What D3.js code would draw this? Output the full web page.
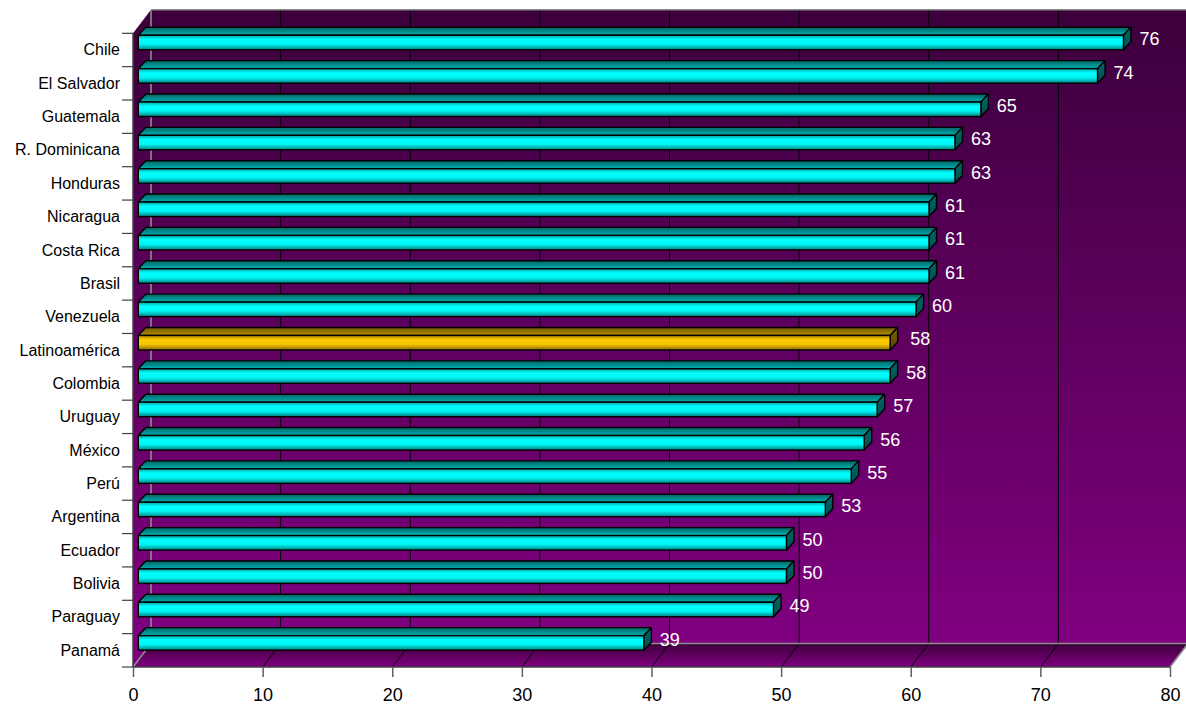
<!DOCTYPE html>
<html>
<head>
<meta charset="utf-8">
<script src="https://cdn.jsdelivr.net/npm/d3@7"></script>
<style>
  html, body { margin: 0; padding: 0; background: #ffffff; }
  svg { display: block; font-family: "Liberation Sans", Arial, sans-serif; }
</style>
</head>
<body>
<svg id="chart" width="1186" height="704"></svg>
<script>
const categories = ["Chile","El Salvador","Guatemala","R. Dominicana","Honduras","Nicaragua","Costa Rica","Brasil","Venezuela","Latinoamérica","Colombia","Uruguay","México","Perú","Argentina","Ecuador","Bolivia","Paraguay","Panamá"];
const values = [76,74,65,63,63,61,61,61,60,58,58,57,56,55,53,50,50,49,39];
const highlighted = ["Latinoamérica"];
const xTicks = [0,10,20,30,40,50,60,70,80];

const svg = d3.select("#chart");
const x = d3.scaleLinear().domain([0, 80]).range([133, 1170]);
const y = d3.scaleBand().domain(categories).range([33.3, 667]);

// 3D geometry
const wallDX = 18, wallDY = -23.5;
const barShiftX = 5.3;
const barDX = 7.5, barDY = -8;
const barTop = 2, barH = 14.5;

const defs = svg.append("defs");
function vGrad(id, stops) {
  const g = defs.append("linearGradient").attr("id", id)
    .attr("x1", 0).attr("y1", 0).attr("x2", 0).attr("y2", 1);
  stops.forEach(s => g.append("stop").attr("offset", s[0]).attr("stop-color", s[1]));
}
vGrad("wallGrad", [[0, "#3c003c"], [1, "#800080"]]);
vGrad("floorGrad", [[0, "#3c003c"], [1, "#800080"]]);
vGrad("cFront", [[0, "#00a8a8"], [0.3, "#00ffff"], [0.62, "#00f4f4"], [1, "#008080"]]);
vGrad("cTop", [[0, "#006666"], [1, "#00b0b0"]]);
vGrad("cEnd", [[0, "#006a6a"], [1, "#004c4c"]]);
vGrad("yFront", [[0, "#b08a00"], [0.3, "#ffcc00"], [0.62, "#f4c400"], [1, "#8a6a00"]]);
vGrad("yTop", [[0, "#6e5600"], [1, "#b89000"]]);
vGrad("yEnd", [[0, "#7a6000"], [1, "#584400"]]);

const x0 = x(0), x1 = x(80);
const yTop = y.range()[0], yBot = y.range()[1];

// back wall
svg.append("rect")
  .attr("x", x0 + wallDX).attr("y", yTop + wallDY)
  .attr("width", x1 - x0 + 2).attr("height", (yBot + wallDY) - (yTop + wallDY))
  .attr("fill", "url(#wallGrad)");
// left wall
svg.append("polygon")
  .attr("points", [[x0, yTop], [x0 + wallDX, yTop + wallDY], [x0 + wallDX, yBot + wallDY], [x0, yBot]].join(" "))
  .attr("fill", "url(#wallGrad)");
// floor
svg.append("polygon")
  .attr("points", [[x0, yBot], [x0 + wallDX, yBot + wallDY], [x1 + wallDX, yBot + wallDY], [x1, yBot]].join(" "))
  .attr("fill", "url(#floorGrad)");

// gridlines (back wall + floor)
const inner = xTicks.filter(t => t > 0 && t < 80);
svg.append("g").selectAll("line").data(inner).join("line")
  .attr("x1", d => x(d) + wallDX).attr("x2", d => x(d) + wallDX)
  .attr("y1", yTop + wallDY).attr("y2", yBot + wallDY)
  .attr("stroke", "#000").attr("stroke-width", 1);
svg.append("g").selectAll("line").data(inner).join("line")
  .attr("x1", d => x(d)).attr("x2", d => x(d) + wallDX)
  .attr("y1", yBot).attr("y2", yBot + wallDY)
  .attr("stroke", "#000").attr("stroke-width", 1);

// wall edges (gray)
const edge = svg.append("g").attr("stroke", "#8c8c8c").attr("stroke-width", 1.6).attr("fill", "none");
edge.append("line").attr("x1", x0 + wallDX).attr("x2", 1186).attr("y1", yTop + wallDY).attr("y2", yTop + wallDY);
edge.append("line").attr("x1", x0 + wallDX).attr("x2", 1186).attr("y1", yBot + wallDY).attr("y2", yBot + wallDY);
edge.append("line").attr("x1", x0 + wallDX).attr("x2", x0 + wallDX).attr("y1", yTop + wallDY).attr("y2", yBot + wallDY);
edge.append("line").attr("x1", x0).attr("x2", x0 + wallDX).attr("y1", yBot).attr("y2", yBot + wallDY);
edge.append("line").attr("x1", x1).attr("x2", x1 + wallDX).attr("y1", yBot).attr("y2", yBot + wallDY);

// axes lines
svg.append("line").attr("x1", x0).attr("x2", x1).attr("y1", yBot).attr("y2", yBot)
  .attr("stroke", "#404040").attr("stroke-width", 1.5);
svg.append("line").attr("x1", x0).attr("x2", x0).attr("y1", yTop).attr("y2", yBot)
  .attr("stroke", "#404040").attr("stroke-width", 1.5);

// y ticks at band boundaries
const boundaries = categories.map(c => y(c)).concat([yBot]);
svg.append("g").selectAll("line").data(boundaries).join("line")
  .attr("x1", x0 - 11).attr("x2", x0).attr("y1", d => d).attr("y2", d => d)
  .attr("stroke", "#404040").attr("stroke-width", 1.2);

// y labels
const yAxis = svg.append("g").attr("transform", `translate(${x0 - 13},0)`)
  .call(d3.axisLeft(y).tickSize(0).tickPadding(0));
yAxis.select(".domain").remove();
yAxis.selectAll("text").attr("font-size", 16).attr("fill", "#000")
  .attr("font-family", "Liberation Sans, Arial, sans-serif")
  .attr("dy", "0.34em");

// x axis
const xAxis = svg.append("g").attr("transform", `translate(0,${yBot})`)
  .call(d3.axisBottom(x).tickValues(xTicks).tickSize(10).tickPadding(11));
xAxis.select(".domain").remove();
xAxis.selectAll(".tick line").attr("stroke", "#606060").attr("stroke-width", 1.5);
xAxis.selectAll("text").attr("font-size", 18).attr("fill", "#000")
  .attr("font-family", "Liberation Sans, Arial, sans-serif");

// bars
const data = categories.map((c, i) => ({ c, v: values[i], hi: highlighted.includes(c) }));
const bars = svg.append("g").selectAll("g").data(data).join("g");
const bx0 = d => x(0) + barShiftX;
const bx1 = d => x(d.v) + barShiftX;
const by0 = d => y(d.c) + barTop;
bars.append("polygon")
  .attr("points", d => [[bx0(d), by0(d)], [bx0(d) + barDX, by0(d) + barDY], [bx1(d) + barDX, by0(d) + barDY], [bx1(d), by0(d)]].join(" "))
  .attr("fill", d => d.hi ? "url(#yTop)" : "url(#cTop)")
  .attr("stroke", "#000").attr("stroke-width", 1.4).attr("stroke-linejoin", "round");
bars.append("polygon")
  .attr("points", d => [[bx1(d), by0(d)], [bx1(d) + barDX, by0(d) + barDY], [bx1(d) + barDX, by0(d) + barDY + barH], [bx1(d), by0(d) + barH]].join(" "))
  .attr("fill", d => d.hi ? "url(#yEnd)" : "url(#cEnd)")
  .attr("stroke", "#000").attr("stroke-width", 1.4).attr("stroke-linejoin", "round");
bars.append("rect")
  .attr("x", bx0).attr("y", by0)
  .attr("width", d => bx1(d) - bx0(d)).attr("height", barH)
  .attr("fill", d => d.hi ? "url(#yFront)" : "url(#cFront)")
  .attr("stroke", "#000").attr("stroke-width", 1.4);

// value labels
bars.append("text")
  .attr("x", d => bx1(d) + (d.hi ? 20 : 16))
  .attr("y", d => y(d.c) + 12)
  .attr("font-size", 18).attr("fill", "#ffffff")
  .text(d => d.v);
</script>
</body>
</html>
